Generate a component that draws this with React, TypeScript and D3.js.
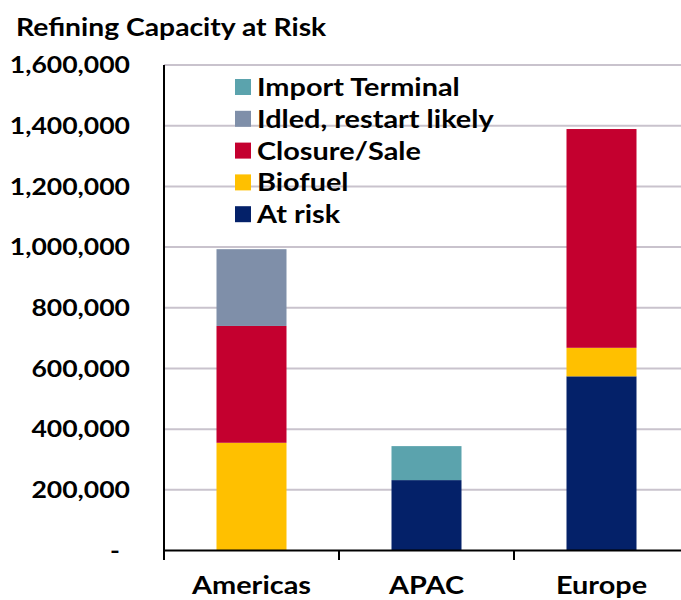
import React from "react";
import * as d3 from "d3";

const categories = ["Americas", "APAC", "Europe"];
const seriesNames = ["At risk", "Biofuel", "Closure/Sale", "Idled, restart likely", "Import Terminal"];
const atRisk = [0, 232000, 574000];
const biofuel = [355000, 0, 94000];
const closureSale = [385000, 0, 721000];
const idled = [253000, 0, 0];
const importTerminal = [0, 112000, 0];
const seriesColors = ["#042169", "#FFC000", "#C4002F", "#7F8FA9", "#5BA3AD"];
const yTicks = [0, 200000, 400000, 600000, 800000, 1000000, 1200000, 1400000, 1600000];
const title = "Refining Capacity at Risk";

const W = 681;
const H = 600;
const FONT = "Lato, 'Open Sans', sans-serif";
const SX = 1.155;

function T({ x, y, size, anchor = "start", dy = "0", children }: any) {
  return (
    <text
      transform={`translate(${x},${y}) scale(${SX},1)`}
      dy={dy}
      textAnchor={anchor}
      fontSize={size}
      fontWeight={700}
      fill="#000"
    >
      {children}
    </text>
  );
}

export default function App() {
  const seriesValues = [atRisk, biofuel, closureSale, idled, importTerminal];
  const rows = categories.map((c, i) => {
    const r: any = { cat: c };
    seriesNames.forEach((s, j) => (r[s] = seriesValues[j][i]));
    return r;
  });
  const stacked = d3.stack<any>().keys(seriesNames)(rows);

  const y = d3.scaleLinear().domain([0, 1600000]).range([550.5, 65]);
  const x = d3
    .scaleBand<string>()
    .domain(categories)
    .range([164, 689])
    .paddingInner(0.6)
    .paddingOuter(0.3);
  const step = x.step();
  const fmt = (v: number) => (v === 0 ? "-" : d3.format(",")(v));

  const legendItems = seriesNames.map((s, i) => ({ name: s, color: seriesColors[i] })).reverse();

  return (
    <svg
      width={W}
      height={H}
      style={{ position: "absolute", left: 0, top: 0, background: "#fff" }}
      fontFamily={FONT}
    >
      <T x={16} y={36} size={24.5}>
        {title}
      </T>
      {/* gridlines */}
      {yTicks.filter((t) => t > 0).map((t) => (
        <line key={t} x1={164} x2={W} y1={y(t)} y2={y(t)} stroke="#C9C3CD" strokeWidth={2} />
      ))}
      {/* y labels */}
      {yTicks.map((t) => (
        <T key={"l" + t} x={t === 0 ? 120 : 130} y={y(t)} dy="0.36em" anchor="end" size={23}>
          {fmt(t)}
        </T>
      ))}
      {/* bars */}
      {stacked.map((layer, li) => (
        <g key={layer.key} fill={seriesColors[li]}>
          {layer.map((d, i) =>
            d[1] - d[0] > 0 ? (
              <rect
                key={i}
                x={x(categories[i])!}
                width={x.bandwidth()}
                y={y(d[1])}
                height={y(d[0]) - y(d[1])}
              />
            ) : null
          )}
        </g>
      ))}
      {/* axes */}
      <line x1={164} x2={164} y1={65} y2={560} stroke="#000" strokeWidth={2} />
      <line x1={163} x2={W} y1={550.5} y2={550.5} stroke="#000" strokeWidth={2} />
      {categories.map((c, i) => (
        <line
          key={"t" + c}
          x1={164 + step * (i + 1)}
          x2={164 + step * (i + 1)}
          y1={550}
          y2={560}
          stroke="#000"
          strokeWidth={2}
        />
      ))}
      {categories.map((c) => (
        <T key={"c" + c} x={x(c)! + x.bandwidth() / 2} y={594} anchor="middle" size={25}>
          {c}
        </T>
      ))}
      {/* legend */}
      {legendItems.map((it, i) => (
        <g key={it.name} transform={`translate(235, ${87 + i * 31.8})`}>
          <rect x={0} y={-8} width={16} height={16} fill={it.color} />
          <T x={22} y={0} dy="0.36em" size={25}>
            {it.name}
          </T>
        </g>
      ))}
    </svg>
  );
}
